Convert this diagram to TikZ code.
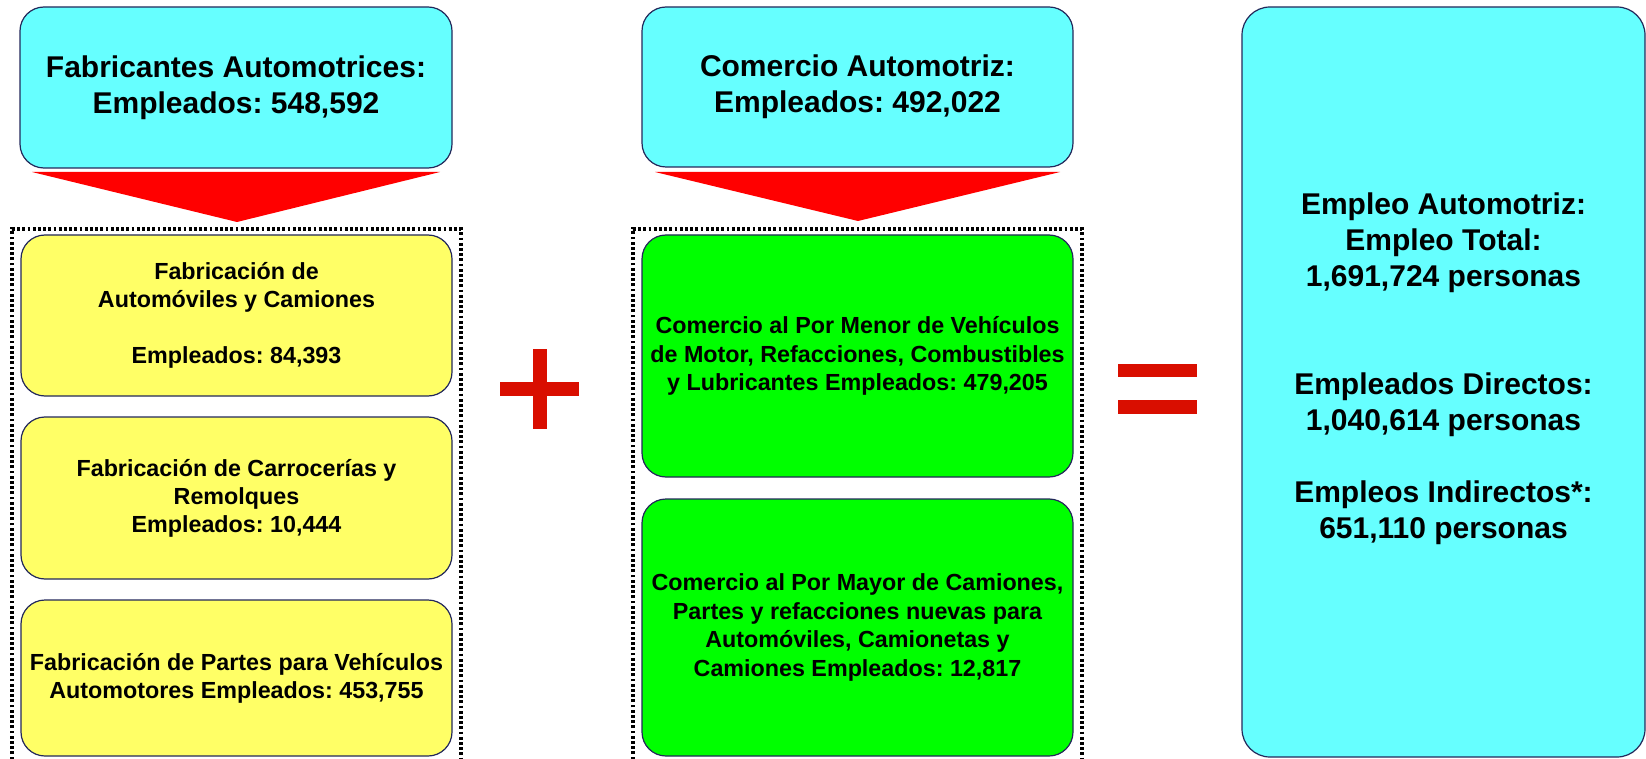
\documentclass[tikz,border=0pt]{standalone}
\usepackage{fontspec}
\setmainfont{Liberation Sans}
\frenchspacing
\definecolor{cyanfill}{RGB}{102,255,255}
\definecolor{yellowfill}{RGB}{255,255,102}
\definecolor{greenfill}{RGB}{0,255,0}
\definecolor{edgeblue}{RGB}{35,40,90}
\definecolor{signred}{RGB}{217,14,0}
\definecolor{arrowred}{RGB}{255,0,0}
\begin{document}
\frenchspacing
\begin{tikzpicture}[x=1pt,y=-1pt,
  box/.style={draw=edgeblue, line width=1.2pt, rounded corners=24pt, inner sep=0pt, outer sep=0pt, align=center},
  headbox/.style={box, fill=cyanfill, font=\frenchspacing\bfseries\fontsize{30}{36}\selectfont},
  yellowbox/.style={box, fill=yellowfill, font=\frenchspacing\bfseries\fontsize{23.3}{28}\selectfont},
  greenbox/.style={box, fill=greenfill, font=\frenchspacing\bfseries\fontsize{23.3}{28.5}\selectfont},
  dotframe/.style={draw=black, line width=3.2pt, dash pattern=on 2.8pt off 2.4pt},
  arrowshape/.style={fill=arrowred},
  signbar/.style={fill=signred}]
\useasboundingbox (0,0) rectangle (1646,759);

% dotted frames
\draw[dotframe] (12,775) -- (12,229) -- (461,229) -- (461,775);
\draw[dotframe] (633,775) -- (633,229) -- (1082,229) -- (1082,775);

% headings
\node[headbox, minimum width=432pt, minimum height=161pt] (fab) at (236,87.5)
  {Fabricantes Automotrices:\\Empleados: 548,592};
\node[headbox, minimum width=431pt, minimum height=160pt] (com) at (857.5,87)
  {Comercio Automotriz:\\Empleados: 492,022};

% red funnel arrows
\fill[arrowshape] (32,172) -- (440,172) -- (237,222) -- cycle;
\fill[arrowshape] (655,172) -- (1060,172) -- (858,221) -- cycle;

% yellow boxes
\node[yellowbox, minimum width=431pt, minimum height=161pt] (y1) at (236.5,315.5)
  {Fabricación de\\Automóviles y Camiones\\[28pt]Empleados: 84,393};
\node[yellowbox, minimum width=431pt, minimum height=162pt] (y2) at (236.5,498)
  {Fabricación de Carrocerías y\\Remolques\\Empleados: 10,444};
\node[yellowbox, minimum width=431pt, minimum height=156pt] (y3) at (236.5,678)
  {Fabricación de Partes para Vehículos\\Automotores Empleados: 453,755};

% green boxes
\node[greenbox, minimum width=431pt, minimum height=242pt] (g1) at (857.5,356)
  {Comercio al Por Menor de Vehículos\\de Motor, Refacciones, Combustibles\\y Lubricantes Empleados: 479,205};
\node[greenbox, minimum width=431pt, minimum height=257pt] (g2) at (857.5,627.5)
  {Comercio al Por Mayor de Camiones,\\Partes y refacciones nuevas para\\Automóviles, Camionetas y\\Camiones Empleados: 12,817};

% total box
\node[headbox, rounded corners=28pt, minimum width=403pt, minimum height=750pt] (total) at (1443.5,382) {};
\node[align=center, inner sep=0pt, font=\frenchspacing\bfseries\fontsize{30}{36}\selectfont] (totaltext) at (1443.5,369)
  {Empleo Automotriz:\\Empleo Total:\\1,691,724 personas\\[72pt]Empleados Directos:\\1,040,614 personas\\[36pt]Empleos Indirectos*:\\651,110 personas};

% plus sign
\fill[signbar] (500,382) rectangle (579,396);
\fill[signbar] (533,349) rectangle (547,429);
% equal sign
\fill[signbar] (1118,364) rectangle (1197,377);
\fill[signbar] (1118,400) rectangle (1197,414);
\end{tikzpicture}
\end{document}
